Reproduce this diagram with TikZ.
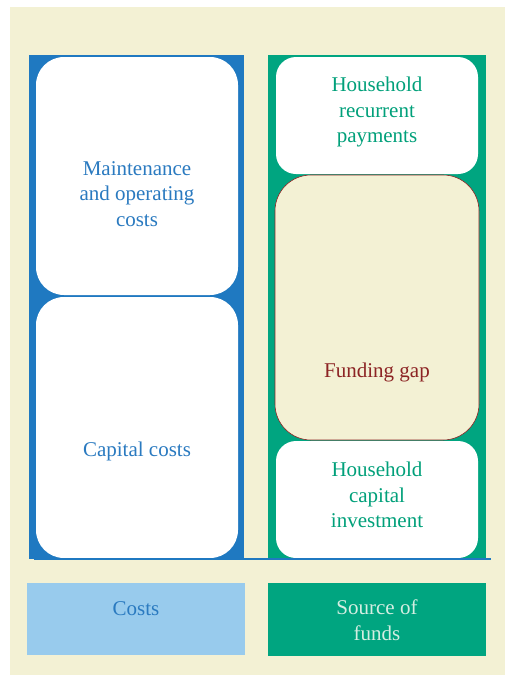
\documentclass[tikz,border=0pt]{standalone}
\usepackage{fontspec}
\setmainfont{LiberationSerif}[Extension = .ttf, UprightFont = *-Regular, BoldFont = *-Bold]
\usetikzlibrary{positioning}

\definecolor{cream}{RGB}{243,241,212}
\definecolor{colblue}{RGB}{31,121,193}
\definecolor{textblue}{RGB}{42,122,192}
\definecolor{lightblue}{RGB}{152,203,237}
\definecolor{colgreen}{RGB}{0,165,128}
\definecolor{textgreen}{RGB}{0,160,122}
\definecolor{gapred}{RGB}{140,36,36}
\definecolor{paletext}{RGB}{212,238,226}

\tikzset{
	column/.style = {anchor = north west, inner sep = 0, outer sep = 0},
	whitebox/.style = {anchor = north west, fill = white, inner sep = 0, outer sep = 0, minimum width = 202, rounded corners = 26},
	label/.style = {align = center, font = \rmfamily\fontsize{21}{25.5}\selectfont, inner sep = 0}
}

\begin{document}

\begin{tikzpicture}[x = 1pt, y = -1pt]

	\useasboundingbox (0, 0) rectangle (505, 675);

	% Background

	\fill [cream] (10, 7) rectangle (505, 675);

	% Costs column

	\node (costcol) [column, fill = colblue, minimum width = 215, minimum height = 504] at (29, 55) {};
	\node (upkeep) [whitebox, minimum height = 238, rounded corners = 28] at (36, 57) {};
	\node (capital) [whitebox, minimum height = 261, rounded corners = 28] at (36, 297) {};

	% Funds column

	\node (fundcol) [column, fill = colgreen, minimum width = 218, minimum height = 504] at (268, 55) {};
	\node (recurrent) [whitebox, minimum height = 117, rounded corners = 20] at (276, 57) {};
	\node (gap) [whitebox, fill = cream, draw = gapred, semithick, minimum width = 204, minimum height = 265, rounded corners = 36] at (275, 175) {};
	\node (invest) [whitebox, minimum height = 117, rounded corners = 20] at (276, 441) {};

	% Base line

	\coordinate (base left) at (34, 559);
	\coordinate (base right) at (491, 559);
	\draw [colblue, line width = 1.5] (base left) -- (base right);

	% Keys

	\node (costkey) [column, fill = lightblue, minimum width = 218, minimum height = 72] at (27, 583) {};
	\node (fundkey) [column, fill = colgreen, minimum width = 218, minimum height = 73] at (268, 583) {};

	% Texts

	\node [label, textblue] at (137, 194) {Maintenance\\and operating\\costs};
	\node [label, textblue] at (137, 451) {Capital costs};
	\node [label, textgreen] at (377, 112) {Household\\recurrent\\payments};
	\node [label, gapred] at (377, 372) {Funding gap};
	\node [label, textgreen] at (377, 495) {Household\\capital\\investment};
	\node [label, textblue] at (136, 609) {Costs};
	\node [label, paletext] at (377, 620) {Source of\\funds};

\end{tikzpicture}

\end{document}
